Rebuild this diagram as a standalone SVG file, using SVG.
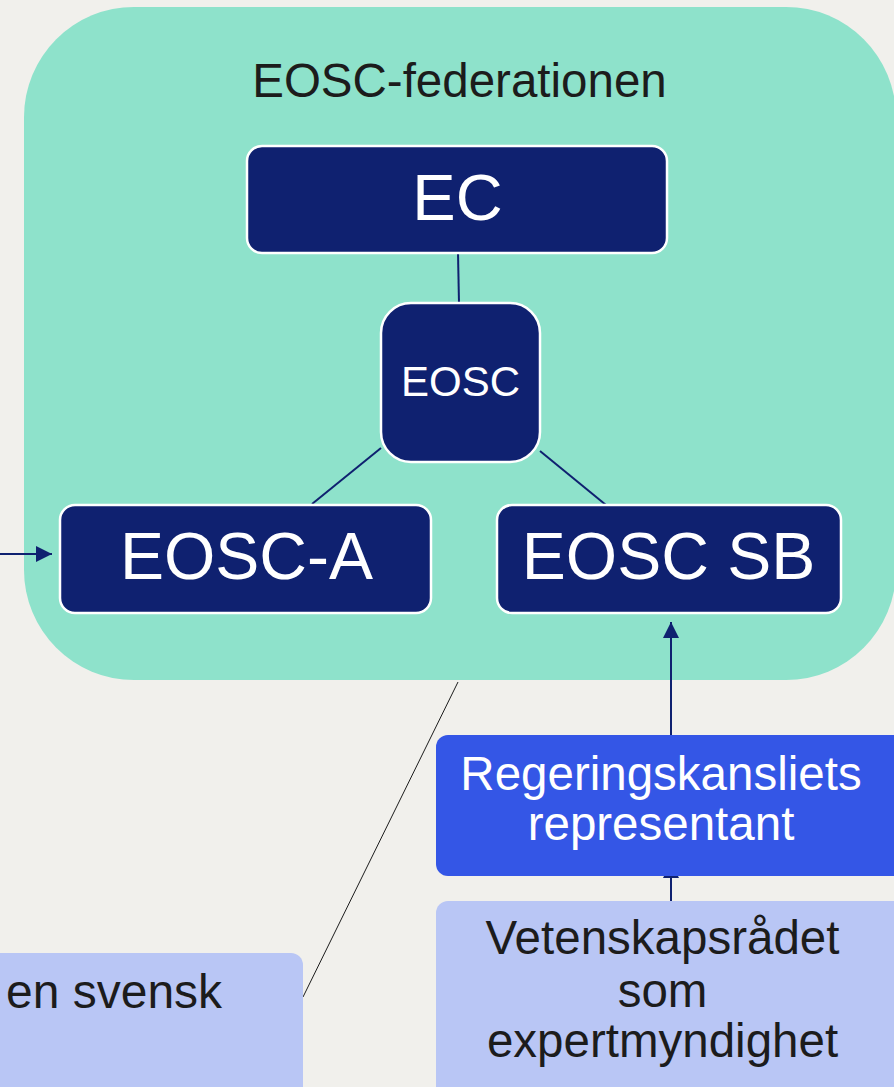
<svg xmlns="http://www.w3.org/2000/svg" width="894" height="1087" viewBox="0 0 894 1087">
  <style>
    .navy { fill: #0F2170; stroke: #FFFFFF; stroke-width: 2.5; }
    .wt { font-family: "Liberation Sans", Arial, sans-serif; fill: #FFFFFF; text-anchor: middle; }
    .dt { font-family: "Liberation Sans", Arial, sans-serif; fill: #1C1C1C; text-anchor: middle; }
    .conn { stroke: #0F2170; stroke-width: 2; fill: none; }
    .light { fill: #B9C6F5; }
  </style>
  <defs>
    <marker id="arr" markerUnits="userSpaceOnUse" markerWidth="16" markerHeight="16" refX="16" refY="8" orient="auto" viewBox="0 0 16 16">
      <path d="M0,0 L16,8 L0,16 Z" fill="#0F2170"/>
    </marker>
  </defs>
  <rect x="0" y="0" width="894" height="1087" fill="#F1F0EC"/>

  <g id="container">
    <rect x="24" y="7" width="872" height="673" rx="110" ry="110" fill="#8EE2CB"/>
    <text class="dt" x="459.5" y="97" font-size="47.5">EOSC-federationen</text>
  </g>

  <g id="connectors">
    <line class="conn" x1="458" y1="253" x2="459" y2="303"/>
    <line class="conn" x1="381" y1="448" x2="312" y2="504"/>
    <line class="conn" x1="540" y1="451" x2="606" y2="505"/>
    <line class="conn" x1="0" y1="554" x2="52" y2="554" marker-end="url(#arr)"/>
    <line class="conn" x1="671" y1="735" x2="671" y2="622" marker-end="url(#arr)"/>
    <line class="conn" x1="671" y1="901" x2="671" y2="862" marker-end="url(#arr)"/>
    <line x1="458" y1="682" x2="303" y2="997" stroke="#1C1C1C" stroke-width="1"/>
  </g>

  <g id="node-ec">
    <rect class="navy" x="247" y="146" width="420" height="107" rx="15"/>
    <text class="wt" x="457.5" y="220" font-size="65">EC</text>
  </g>

  <g id="node-eosc">
    <rect class="navy" x="381" y="303" width="159" height="159" rx="30"/>
    <text class="wt" x="460.5" y="396" font-size="42">EOSC</text>
  </g>

  <g id="node-eosc-a">
    <rect class="navy" x="60" y="505" width="371" height="108" rx="15"/>
    <text class="wt" x="246.5" y="579" font-size="66">EOSC-A</text>
  </g>

  <g id="node-eosc-sb">
    <rect class="navy" x="497" y="505" width="344" height="108" rx="15"/>
    <text class="wt" x="668.5" y="579" font-size="66">EOSC SB</text>
  </g>

  <g id="node-regeringskansliet">
    <rect x="436" y="735" width="480" height="141" rx="12" fill="#3456E6"/>
    <text class="wt" x="661" y="790" font-size="47.5">Regeringskansliets</text>
    <text class="wt" x="661" y="840" font-size="47.5">representant</text>
  </g>

  <g id="node-vetenskapsradet">
    <rect class="light" x="436" y="901" width="480" height="210" rx="12"/>
    <text class="dt" x="662.5" y="954" font-size="47.5">Vetenskapsrådet</text>
    <text class="dt" x="662.5" y="1007" font-size="47.5">som</text>
    <text class="dt" x="662.5" y="1057" font-size="47.5">expertmyndighet</text>
  </g>

  <g id="node-svensk">
    <rect class="light" x="-30" y="953" width="333" height="160" rx="12"/>
    <text class="dt" x="6" y="1008" font-size="48" style="text-anchor:start">en svensk</text>
  </g>
</svg>
